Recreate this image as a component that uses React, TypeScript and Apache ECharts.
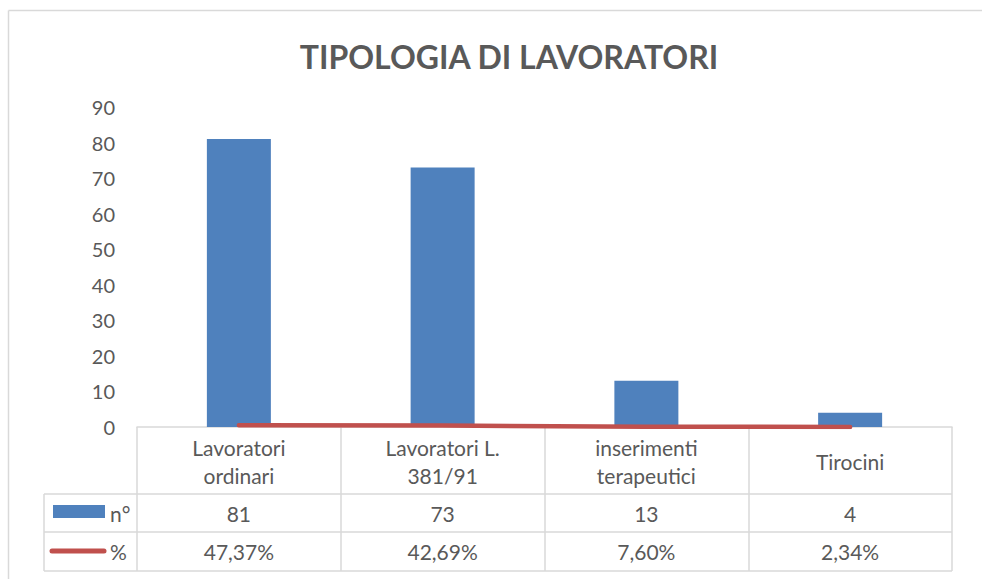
import React, { useEffect, useRef } from "react";
import * as echarts from "echarts";

const categories = ["Lavoratori\nordinari", "Lavoratori L.\n381/91", "inserimenti\nterapeutici", "Tirocini"];
const countValues = [81, 73, 13, 4];
const percentValues = [0.4737, 0.4269, 0.076, 0.0234];
const percentLabels = ["47,37%", "42,69%", "7,60%", "2,34%"];
const seriesNames = ["n°", "%"];
const yTicks = { min: 0, max: 90, interval: 10 };

const FONT = "Lato, 'Noto Sans', sans-serif";
const TXT = "#595959";
const GRID_LINE = "#D9D9D9";
const BLUE = "#4F81BD";
const RED = "#C0504D";
const TABLE_FS = 21;

export default function App() {
  const ref = useRef<HTMLDivElement>(null);
  useEffect(() => {
    if (!ref.current) return;
    const chart = echarts.init(ref.current, null, { renderer: "svg" });
    const L = 137, R = 952, T = 107, B = 427;
    const rowN = 494, rowP = 532, rowEnd = 571, tblLeft = 44;
    chart.setOption({
      animation: false,
      backgroundColor: "#ffffff",
      textStyle: { fontFamily: FONT },
      title: {
        text: "TIPOLOGIA DI LAVORATORI",
        left: 504,
        top: 35,
        textAlign: "center",
        textStyle: { fontFamily: FONT, fontSize: 32, fontWeight: "bold", color: TXT },
      },
      grid: { left: L, right: 982 - R, top: T, bottom: 579 - B, containLabel: false },
      xAxis: [
        {
          type: "category",
          data: categories,
          position: "bottom",
          boundaryGap: true,
          axisLine: { show: true, lineStyle: { color: GRID_LINE, width: 1.5 } },
          axisTick: { show: true, interval: 0, length: rowEnd - B, lineStyle: { color: GRID_LINE, width: 1.5 } },
          axisLabel: {
            interval: 0,
            margin: 34,
            verticalAlign: "middle",
            lineHeight: 28,
            color: TXT,
            fontSize: TABLE_FS,
            fontFamily: FONT,
          },
        },
        {
          type: "category",
          data: countValues.map(String),
          position: "bottom",
          axisLine: { show: false },
          axisTick: { show: false },
          axisLabel: { interval: 0, margin: (rowN + rowP) / 2 - B, verticalAlign: "middle", color: TXT, fontSize: TABLE_FS, fontFamily: FONT },
        },
        {
          type: "category",
          data: percentLabels,
          position: "bottom",
          axisLine: { show: false },
          axisTick: { show: false },
          axisLabel: { interval: 0, margin: (rowP + rowEnd) / 2 - B, verticalAlign: "middle", color: TXT, fontSize: TABLE_FS, fontFamily: FONT },
        },
      ],
      yAxis: {
        type: "value",
        min: yTicks.min,
        max: yTicks.max,
        interval: yTicks.interval,
        axisLine: { show: false },
        axisTick: { show: false },
        splitLine: { show: false },
        axisLabel: { color: TXT, fontSize: 20, fontFamily: FONT, margin: 22 },
      },
      series: [
        {
          name: seriesNames[0],
          type: "bar",
          data: countValues,
          barWidth: 64,
          itemStyle: { color: BLUE },
        },
        {
          name: seriesNames[1],
          type: "line",
          data: percentValues,
          showSymbol: false,
          symbol: "none",
          lineStyle: { color: RED, width: 4.5, cap: "round" },
          z: 5,
        },
      ],
      graphic: [
        { type: "line", shape: { x1: 8.5, y1: 10.5, x2: 982, y2: 10.5 }, style: { stroke: GRID_LINE, lineWidth: 1.5 } },
        { type: "line", shape: { x1: 8.5, y1: 10.5, x2: 8.5, y2: 579 }, style: { stroke: GRID_LINE, lineWidth: 1.5 } },
        { type: "line", shape: { x1: tblLeft, y1: rowN, x2: R, y2: rowN }, style: { stroke: GRID_LINE, lineWidth: 1.5 } },
        { type: "line", shape: { x1: tblLeft, y1: rowP, x2: R, y2: rowP }, style: { stroke: GRID_LINE, lineWidth: 1.5 } },
        { type: "line", shape: { x1: tblLeft, y1: rowEnd, x2: R, y2: rowEnd }, style: { stroke: GRID_LINE, lineWidth: 1.5 } },
        { type: "line", shape: { x1: tblLeft, y1: rowN, x2: tblLeft, y2: rowEnd }, style: { stroke: GRID_LINE, lineWidth: 1.5 } },
        { type: "rect", shape: { x: 53, y: 505, width: 52, height: 13 }, style: { fill: BLUE } },
        { type: "text", x: 110, y: (rowN + rowP) / 2, style: { text: seriesNames[0], fill: TXT, font: `${TABLE_FS}px ${FONT}`, verticalAlign: "middle" } },
        { type: "line", shape: { x1: 52, y1: 551, x2: 104, y2: 551 }, style: { stroke: RED, lineWidth: 5, lineCap: "round" } },
        { type: "text", x: 110, y: (rowP + rowEnd) / 2, style: { text: seriesNames[1], fill: TXT, font: `${TABLE_FS}px ${FONT}`, verticalAlign: "middle" } },
      ],
    });
    return () => chart.dispose();
  }, []);
  return <div ref={ref} style={{ position: "fixed", left: 0, top: 0, width: 982, height: 579 }} />;
}
